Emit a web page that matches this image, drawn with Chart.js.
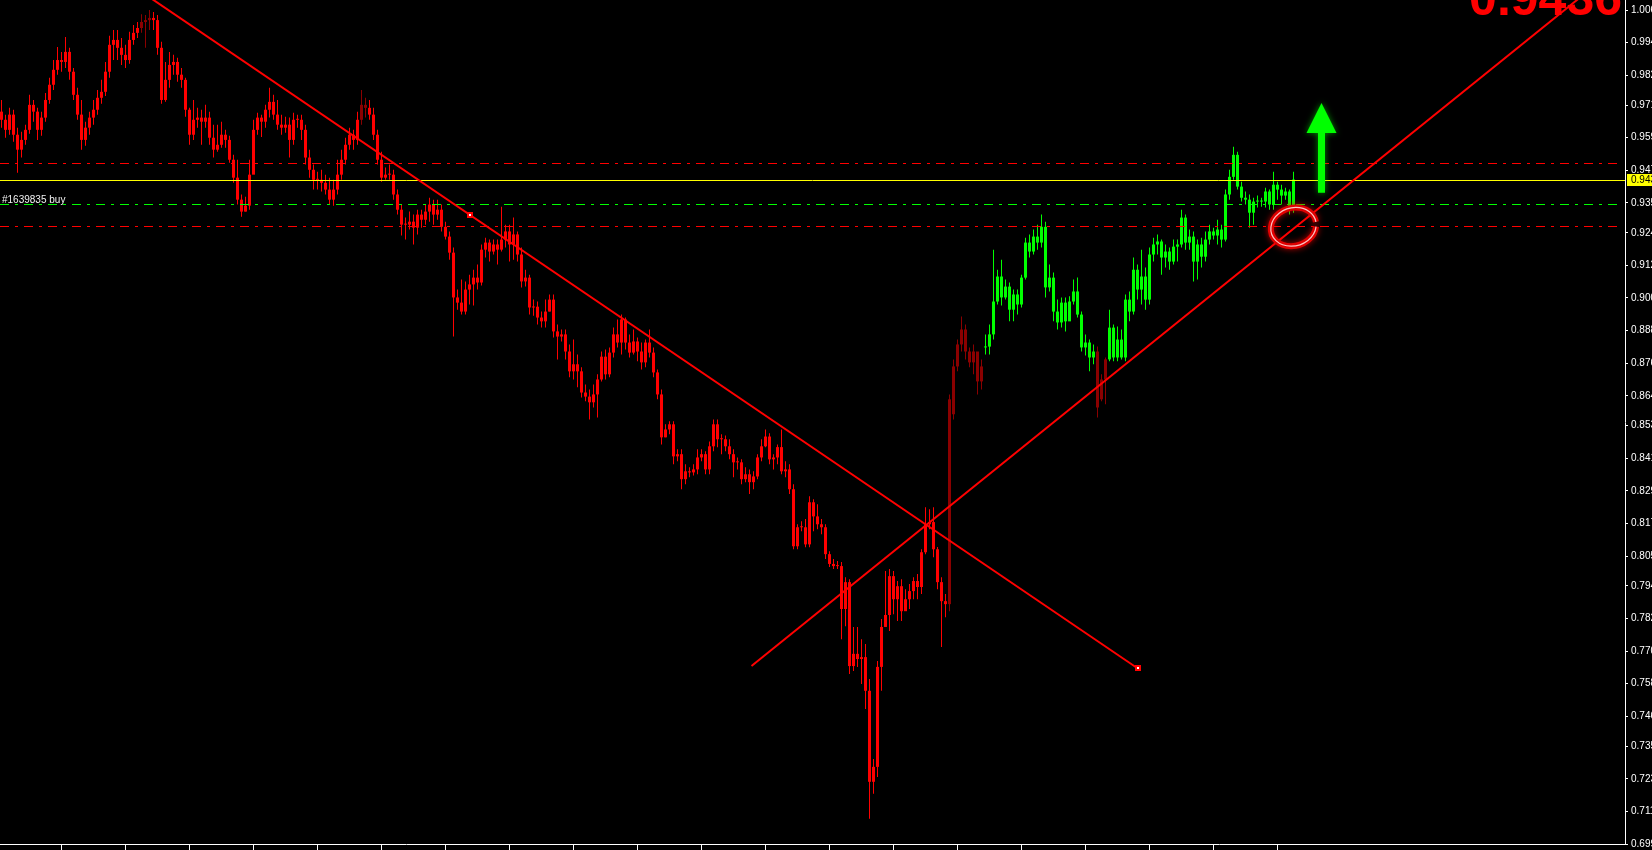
<!DOCTYPE html>
<html>
<head>
<meta charset="utf-8">
<script src="https://cdn.jsdelivr.net/npm/chart.js@4.4.1/dist/chart.umd.min.js"></script>
<style>
  html, body { margin: 0; padding: 0; background: #000; overflow: hidden; }
  canvas { display: block; }
</style>
</head>
<body>
<canvas id="chart" width="1652" height="850"></canvas>
<script>
// candles, oldest first
const opens = [
  0.9686, 0.9656, 0.9619, 0.9675, 0.9601, 0.9546, 0.9582, 0.9619, 0.9711, 0.9686,
  0.9619, 0.9664, 0.9729, 0.9785, 0.9840, 0.9876, 0.9869, 0.9906, 0.9833, 0.9748,
  0.9675, 0.9582, 0.9627, 0.9664, 0.9693, 0.9737, 0.9759, 0.9833, 0.9932, 0.9950,
  0.9921, 0.9895, 0.9876, 0.9950, 0.9976, 0.9994, 1.0016, 1.0023, 1.0031, 1.0023,
  0.9921, 0.9729, 0.9803, 0.9858, 0.9869, 0.9822, 0.9803, 0.9693, 0.9601, 0.9656,
  0.9664, 0.9649, 0.9664, 0.9590, 0.9546, 0.9564, 0.9601, 0.9582, 0.9509, 0.9443,
  0.9362, 0.9318, 0.9340, 0.9454, 0.9619, 0.9664, 0.9649, 0.9693, 0.9722, 0.9675,
  0.9638, 0.9627, 0.9638, 0.9582, 0.9656, 0.9656, 0.9619, 0.9517, 0.9472, 0.9435,
  0.9435, 0.9424, 0.9399, 0.9362, 0.9399, 0.9454, 0.9509, 0.9564, 0.9601, 0.9582,
  0.9656, 0.9711, 0.9700, 0.9675, 0.9601, 0.9509, 0.9443, 0.9454, 0.9454, 0.9381,
  0.9325, 0.9270, 0.9270, 0.9281, 0.9259, 0.9307, 0.9288, 0.9318, 0.9344, 0.9307,
  0.9325, 0.9262, 0.9226, 0.9167, 0.9002, 0.8983, 0.8950, 0.9031, 0.9050, 0.9075,
  0.9057, 0.9178, 0.9204, 0.9171, 0.9197, 0.9178, 0.9215, 0.9245, 0.9197, 0.9234,
  0.9160, 0.9061, 0.9075, 0.8965, 0.8968, 0.8928, 0.8914, 0.8950, 0.8994, 0.8877,
  0.8858, 0.8866, 0.8803, 0.8730, 0.8756, 0.8730, 0.8652, 0.8637, 0.8616, 0.8645,
  0.8700, 0.8784, 0.8719, 0.8799, 0.8866, 0.8836, 0.8921, 0.8836, 0.8799, 0.8840,
  0.8803, 0.8763, 0.8836, 0.8799, 0.8726, 0.8645, 0.8487, 0.8516, 0.8535, 0.8417,
  0.8425, 0.8333, 0.8362, 0.8358, 0.8369, 0.8413, 0.8425, 0.8369, 0.8454, 0.8535,
  0.8480, 0.8480, 0.8454, 0.8425, 0.8395, 0.8395, 0.8333, 0.8351, 0.8322, 0.8343,
  0.8413, 0.8454, 0.8490, 0.8406, 0.8413, 0.8451, 0.8362, 0.8369, 0.8296, 0.8086,
  0.8156, 0.8156, 0.8093, 0.8248, 0.8196, 0.8167, 0.8156, 0.8057, 0.8021, 0.8013,
  0.8013, 0.7855, 0.7954, 0.7645, 0.7690, 0.7671, 0.7678, 0.7554, 0.7219, 0.7274,
  0.7642, 0.7789, 0.7833, 0.7976, 0.7891, 0.7939, 0.7847, 0.7891, 0.7921, 0.7958,
  0.7936, 0.8064, 0.8167, 0.8175, 0.8075, 0.7954, 0.7884, 0.7873, 0.8572, 0.8748,
  0.8829, 0.8884, 0.8803, 0.8763, 0.8803, 0.8693, 0.8818, 0.8821, 0.8866, 0.8987,
  0.9079, 0.9002, 0.9042, 0.8957, 0.9013, 0.8976, 0.9075, 0.9204, 0.9171, 0.9226,
  0.9204, 0.9262, 0.9039, 0.9075, 0.8950, 0.8910, 0.8983, 0.8914, 0.8987, 0.9024,
  0.8939, 0.8818, 0.8836, 0.8781, 0.8803, 0.8627, 0.8700, 0.8774, 0.8891, 0.8781,
  0.8847, 0.8781, 0.8994, 0.8950, 0.9104, 0.9031, 0.9079, 0.8994, 0.9160, 0.9197,
  0.9208, 0.9149, 0.9171, 0.9134, 0.9189, 0.9197, 0.9296, 0.9204, 0.9226, 0.9134,
  0.9197, 0.9152, 0.9215, 0.9245, 0.9230, 0.9252, 0.9215, 0.9381, 0.9446, 0.9527,
  0.9410, 0.9369, 0.9362, 0.9314, 0.9355, 0.9355, 0.9355, 0.9392, 0.9344, 0.9417,
  0.9399, 0.9377, 0.9392, 0.9325
];
const highs = [
  0.9729, 0.9675, 0.9700, 0.9693, 0.9627, 0.9612, 0.9638, 0.9748, 0.9729, 0.9700,
  0.9686, 0.9755, 0.9811, 0.9876, 0.9924, 0.9906, 0.9961, 0.9921, 0.9847, 0.9774,
  0.9729, 0.9649, 0.9686, 0.9729, 0.9766, 0.9803, 0.9869, 0.9965, 0.9987, 0.9987,
  0.9957, 0.9932, 0.9980, 1.0005, 1.0016, 1.0045, 1.0042, 1.0060, 1.0053, 1.0042,
  0.9943, 0.9869, 0.9906, 0.9895, 0.9884, 0.9847, 0.9811, 0.9700, 0.9729, 0.9700,
  0.9693, 0.9711, 0.9686, 0.9638, 0.9638, 0.9649, 0.9619, 0.9597, 0.9527, 0.9509,
  0.9381, 0.9373, 0.9509, 0.9656, 0.9682, 0.9675, 0.9711, 0.9774, 0.9748, 0.9729,
  0.9675, 0.9667, 0.9664, 0.9682, 0.9675, 0.9675, 0.9638, 0.9546, 0.9491, 0.9465,
  0.9472, 0.9454, 0.9443, 0.9435, 0.9509, 0.9546, 0.9590, 0.9627, 0.9619, 0.9686,
  0.9766, 0.9737, 0.9729, 0.9700, 0.9619, 0.9538, 0.9480, 0.9491, 0.9472, 0.9399,
  0.9344, 0.9296, 0.9318, 0.9307, 0.9325, 0.9325, 0.9344, 0.9369, 0.9362, 0.9362,
  0.9344, 0.9281, 0.9245, 0.9186, 0.9031, 0.9068, 0.9061, 0.9086, 0.9104, 0.9123,
  0.9197, 0.9222, 0.9215, 0.9215, 0.9215, 0.9336, 0.9270, 0.9270, 0.9296, 0.9245,
  0.9186, 0.9104, 0.9086, 0.8994, 0.8987, 0.8950, 0.8994, 0.9013, 0.9013, 0.8902,
  0.8884, 0.8884, 0.8829, 0.8847, 0.8792, 0.8745, 0.8682, 0.8663, 0.8682, 0.8719,
  0.8803, 0.8810, 0.8818, 0.8891, 0.8921, 0.8939, 0.8928, 0.8866, 0.8884, 0.8855,
  0.8836, 0.8847, 0.8884, 0.8818, 0.8737, 0.8663, 0.8535, 0.8546, 0.8546, 0.8443,
  0.8443, 0.8388, 0.8377, 0.8388, 0.8443, 0.8443, 0.8436, 0.8472, 0.8553, 0.8553,
  0.8498, 0.8494, 0.8480, 0.8443, 0.8413, 0.8406, 0.8377, 0.8369, 0.8362, 0.8425,
  0.8480, 0.8516, 0.8502, 0.8425, 0.8461, 0.8516, 0.8399, 0.8388, 0.8314, 0.8167,
  0.8178, 0.8186, 0.8270, 0.8259, 0.8241, 0.8186, 0.8167, 0.8068, 0.8039, 0.8032,
  0.8028, 0.7972, 0.7965, 0.7789, 0.7789, 0.7744, 0.7726, 0.7597, 0.7303, 0.7664,
  0.7818, 0.7995, 0.8002, 0.7995, 0.7958, 0.7965, 0.7928, 0.7947, 0.7972, 0.7984,
  0.8075, 0.8230, 0.8222, 0.8230, 0.8083, 0.7972, 0.7910, 0.8645, 0.8774, 0.8847,
  0.8932, 0.8902, 0.8818, 0.8829, 0.8792, 0.8774, 0.8866, 0.8902, 0.9178, 0.9104,
  0.9141, 0.9068, 0.9057, 0.9031, 0.9031, 0.9086, 0.9222, 0.9234, 0.9252, 0.9270,
  0.9307, 0.9281, 0.9123, 0.9094, 0.8994, 0.9002, 0.9002, 0.9006, 0.9068, 0.9075,
  0.8950, 0.8866, 0.8847, 0.8829, 0.8821, 0.8719, 0.8781, 0.8957, 0.8902, 0.8895,
  0.8884, 0.9013, 0.9024, 0.9149, 0.9123, 0.9178, 0.9112, 0.9186, 0.9222, 0.9234,
  0.9215, 0.9197, 0.9186, 0.9215, 0.9215, 0.9325, 0.9307, 0.9252, 0.9245, 0.9215,
  0.9222, 0.9245, 0.9270, 0.9259, 0.9288, 0.9270, 0.9399, 0.9472, 0.9557, 0.9538,
  0.9428, 0.9392, 0.9381, 0.9369, 0.9377, 0.9369, 0.9406, 0.9399, 0.9465, 0.9428,
  0.9417, 0.9406, 0.9399, 0.9465
];
const lows = [
  0.9627, 0.9590, 0.9601, 0.9575, 0.9461, 0.9517, 0.9564, 0.9605, 0.9649, 0.9582,
  0.9597, 0.9649, 0.9715, 0.9766, 0.9822, 0.9833, 0.9847, 0.9803, 0.9729, 0.9656,
  0.9546, 0.9560, 0.9601, 0.9638, 0.9675, 0.9715, 0.9744, 0.9811, 0.9876, 0.9876,
  0.9858, 0.9847, 0.9862, 0.9932, 0.9957, 0.9976, 0.9921, 0.9987, 0.9987, 0.9895,
  0.9715, 0.9722, 0.9774, 0.9822, 0.9796, 0.9774, 0.9667, 0.9564, 0.9582, 0.9627,
  0.9564, 0.9627, 0.9564, 0.9517, 0.9538, 0.9553, 0.9553, 0.9498, 0.9424, 0.9344,
  0.9299, 0.9318, 0.9325, 0.9465, 0.9601, 0.9593, 0.9627, 0.9664, 0.9656, 0.9619,
  0.9601, 0.9608, 0.9517, 0.9564, 0.9627, 0.9582, 0.9491, 0.9443, 0.9399, 0.9399,
  0.9392, 0.9381, 0.9344, 0.9340, 0.9381, 0.9435, 0.9491, 0.9546, 0.9546, 0.9564,
  0.9638, 0.9664, 0.9656, 0.9582, 0.9491, 0.9428, 0.9435, 0.9435, 0.9362, 0.9307,
  0.9230, 0.9215, 0.9252, 0.9197, 0.9234, 0.9259, 0.9270, 0.9281, 0.9270, 0.9288,
  0.9245, 0.9215, 0.9141, 0.8858, 0.8957, 0.8939, 0.8939, 0.8976, 0.8972, 0.9031,
  0.9046, 0.9149, 0.9134, 0.9160, 0.9123, 0.9171, 0.9186, 0.9134, 0.9141, 0.9134,
  0.9039, 0.9042, 0.8939, 0.8935, 0.8902, 0.8891, 0.8891, 0.8950, 0.8855, 0.8774,
  0.8840, 0.8774, 0.8708, 0.8700, 0.8671, 0.8634, 0.8620, 0.8553, 0.8597, 0.8560,
  0.8693, 0.8700, 0.8708, 0.8781, 0.8818, 0.8792, 0.8810, 0.8781, 0.8792, 0.8767,
  0.8737, 0.8745, 0.8781, 0.8708, 0.8627, 0.8461, 0.8487, 0.8498, 0.8388, 0.8399,
  0.8296, 0.8314, 0.8340, 0.8347, 0.8351, 0.8399, 0.8351, 0.8351, 0.8436, 0.8451,
  0.8425, 0.8436, 0.8406, 0.8340, 0.8369, 0.8314, 0.8322, 0.8278, 0.8296, 0.8333,
  0.8399, 0.8451, 0.8388, 0.8369, 0.8388, 0.8351, 0.8340, 0.8278, 0.8075, 0.8075,
  0.8141, 0.8082, 0.8082, 0.8141, 0.8149, 0.8130, 0.8039, 0.8010, 0.8002, 0.8002,
  0.7744, 0.7792, 0.7616, 0.7627, 0.7642, 0.7579, 0.7487, 0.7083, 0.7175, 0.7237,
  0.7554, 0.7800, 0.7774, 0.7836, 0.7811, 0.7811, 0.7855, 0.7855, 0.7891, 0.7891,
  0.7910, 0.8057, 0.8149, 0.8046, 0.7928, 0.7715, 0.7825, 0.7847, 0.8553, 0.8730,
  0.8803, 0.8774, 0.8745, 0.8719, 0.8645, 0.8663, 0.8792, 0.8792, 0.8847, 0.8976,
  0.8972, 0.8994, 0.8914, 0.8914, 0.8939, 0.8965, 0.9068, 0.9149, 0.9160, 0.9178,
  0.9186, 0.9002, 0.9024, 0.8914, 0.8884, 0.8891, 0.8877, 0.8950, 0.8976, 0.8928,
  0.8803, 0.8788, 0.8730, 0.8756, 0.8560, 0.8620, 0.8609, 0.8767, 0.8767, 0.8767,
  0.8774, 0.8767, 0.8914, 0.8939, 0.8994, 0.8976, 0.8957, 0.8976, 0.9134, 0.9160,
  0.9086, 0.9112, 0.9104, 0.9123, 0.9134, 0.9186, 0.9178, 0.9178, 0.9061, 0.9068,
  0.9112, 0.9134, 0.9197, 0.9215, 0.9197, 0.9186, 0.9208, 0.9362, 0.9435, 0.9399,
  0.9355, 0.9344, 0.9259, 0.9270, 0.9333, 0.9336, 0.9333, 0.9325, 0.9325, 0.9362,
  0.9344, 0.9362, 0.9307, 0.9314
];
const closes = [
  0.9656, 0.9619, 0.9675, 0.9601, 0.9546, 0.9582, 0.9619, 0.9711, 0.9686, 0.9619,
  0.9664, 0.9729, 0.9785, 0.9840, 0.9876, 0.9869, 0.9906, 0.9833, 0.9748, 0.9675,
  0.9582, 0.9627, 0.9664, 0.9693, 0.9737, 0.9759, 0.9833, 0.9932, 0.9950, 0.9921,
  0.9895, 0.9876, 0.9950, 0.9976, 0.9994, 1.0016, 1.0023, 1.0031, 1.0023, 0.9921,
  0.9729, 0.9803, 0.9858, 0.9869, 0.9822, 0.9803, 0.9693, 0.9601, 0.9656, 0.9664,
  0.9649, 0.9664, 0.9590, 0.9546, 0.9564, 0.9601, 0.9582, 0.9509, 0.9443, 0.9362,
  0.9318, 0.9340, 0.9454, 0.9619, 0.9664, 0.9649, 0.9693, 0.9722, 0.9675, 0.9638,
  0.9627, 0.9638, 0.9582, 0.9656, 0.9656, 0.9619, 0.9517, 0.9472, 0.9435, 0.9435,
  0.9424, 0.9399, 0.9362, 0.9399, 0.9454, 0.9509, 0.9564, 0.9601, 0.9582, 0.9656,
  0.9711, 0.9700, 0.9675, 0.9601, 0.9509, 0.9443, 0.9454, 0.9454, 0.9381, 0.9325,
  0.9270, 0.9270, 0.9281, 0.9259, 0.9307, 0.9288, 0.9318, 0.9344, 0.9307, 0.9325,
  0.9262, 0.9226, 0.9167, 0.9002, 0.8983, 0.8950, 0.9031, 0.9050, 0.9075, 0.9057,
  0.9178, 0.9204, 0.9171, 0.9197, 0.9178, 0.9215, 0.9245, 0.9197, 0.9234, 0.9160,
  0.9061, 0.9075, 0.8965, 0.8968, 0.8928, 0.8914, 0.8950, 0.8994, 0.8877, 0.8858,
  0.8866, 0.8803, 0.8730, 0.8756, 0.8730, 0.8652, 0.8637, 0.8616, 0.8645, 0.8700,
  0.8784, 0.8719, 0.8799, 0.8866, 0.8836, 0.8921, 0.8836, 0.8799, 0.8840, 0.8803,
  0.8763, 0.8836, 0.8799, 0.8726, 0.8645, 0.8487, 0.8516, 0.8535, 0.8417, 0.8425,
  0.8333, 0.8362, 0.8358, 0.8369, 0.8413, 0.8425, 0.8369, 0.8454, 0.8535, 0.8480,
  0.8480, 0.8454, 0.8425, 0.8395, 0.8395, 0.8333, 0.8351, 0.8322, 0.8343, 0.8413,
  0.8454, 0.8490, 0.8406, 0.8413, 0.8451, 0.8362, 0.8369, 0.8296, 0.8086, 0.8156,
  0.8156, 0.8093, 0.8248, 0.8196, 0.8167, 0.8156, 0.8057, 0.8021, 0.8013, 0.8013,
  0.7855, 0.7954, 0.7645, 0.7690, 0.7671, 0.7678, 0.7554, 0.7219, 0.7274, 0.7642,
  0.7789, 0.7833, 0.7976, 0.7891, 0.7939, 0.7847, 0.7891, 0.7921, 0.7958, 0.7936,
  0.8064, 0.8167, 0.8175, 0.8075, 0.7954, 0.7884, 0.7873, 0.8627, 0.8748, 0.8829,
  0.8884, 0.8803, 0.8763, 0.8803, 0.8693, 0.8748, 0.8821, 0.8866, 0.8987, 0.9079,
  0.9002, 0.9042, 0.8957, 0.9013, 0.8976, 0.9075, 0.9204, 0.9171, 0.9226, 0.9204,
  0.9262, 0.9039, 0.9075, 0.8950, 0.8910, 0.8983, 0.8914, 0.8987, 0.9024, 0.8939,
  0.8818, 0.8836, 0.8781, 0.8803, 0.8597, 0.8700, 0.8774, 0.8891, 0.8781, 0.8847,
  0.8781, 0.8994, 0.8950, 0.9104, 0.9031, 0.9079, 0.8994, 0.9160, 0.9197, 0.9208,
  0.9149, 0.9171, 0.9134, 0.9189, 0.9197, 0.9296, 0.9204, 0.9226, 0.9134, 0.9197,
  0.9152, 0.9215, 0.9245, 0.9230, 0.9252, 0.9215, 0.9381, 0.9446, 0.9527, 0.9410,
  0.9369, 0.9362, 0.9314, 0.9355, 0.9355, 0.9355, 0.9392, 0.9344, 0.9417, 0.9399,
  0.9377, 0.9392, 0.9325, 0.9436
];

// which candles are drawn dark, and where the green (buy) run starts
const darkBars = [35, 36, 37, 90, 91, 237, 238, 239, 240, 241, 242, 243, 244, 245, 274, 275, 276];
const buyRunStart = 246;

// price axis labels and session ticks on the time axis (candle numbers)
const priceLabels = ['1.006', '0.994', '0.982', '0.971', '0.959', '0.947', '0.935', '0.924', '0.912',
  '0.900', '0.888', '0.876', '0.864', '0.853', '0.841', '0.829', '0.817', '0.805', '0.794',
  '0.782', '0.770', '0.758', '0.746', '0.735', '0.723', '0.711', '0.699'];
const sessionTicks = [15, 31, 47, 63, 79, 95, 111, 127, 143, 159, 175, 191, 207, 223, 239, 255, 271, 287, 303, 319];

// order and price levels
const bid = 0.9436;
const orderLabel = '#1639835 buy';
const orderOpen = 0.9347;
const stopLevels = [0.9498, 0.9266];

// trend lines: [candle, price] anchors
const downTrend = [[117, 0.9307], [284, 0.7637]];
const upTrend = [[187.5, 0.7645], [323, 0.9255]];
const circleAt = [323, 0.9262];
const arrowFrom = [330, 0.9387];
const arrowTo = [330, 0.9718];

function candleColor(i) {
  if (darkBars.includes(i)) return '#8b0000';
  if (i >= buyRunStart) return '#00ff00';
  return '#ff0000';
}

const wickData = lows.map((l, i) => ({ x: i, y: [l, highs[i]] }));
const bodyData = opens.map((o, i) => ({ x: i, y: [o, closes[i]] }));

const overlay = {
  id: 'overlay',
  afterDatasetsDraw(chart) {
    const { ctx, chartArea: a, scales: { x, y } } = chart;
    const px = v => x.getPixelForValue(v);
    const py = v => y.getPixelForValue(v);
    ctx.save();
    ctx.beginPath();
    ctx.rect(a.left, a.top, a.right - a.left, a.bottom - a.top);
    ctx.clip();

    // dash-dot levels
    ctx.lineWidth = 1;
    ctx.setLineDash([9, 6, 3, 6]);
    stopLevels.forEach(v => {
      const yy = Math.round(py(v)) + 0.5;
      ctx.strokeStyle = '#ff0000';
      ctx.beginPath(); ctx.moveTo(a.left, yy); ctx.lineTo(a.right - 2, yy); ctx.stroke();
    });
    let yo = Math.round(py(orderOpen)) + 0.5;
    ctx.strokeStyle = '#00ff00';
    ctx.beginPath(); ctx.moveTo(a.left, yo); ctx.lineTo(a.right - 2, yo); ctx.stroke();
    ctx.setLineDash([]);

    // bid line
    const yb = Math.round(py(bid)) + 0.5;
    ctx.strokeStyle = '#ffff00';
    ctx.beginPath(); ctx.moveTo(a.left, yb); ctx.lineTo(a.right, yb); ctx.stroke();

    // order label
    ctx.fillStyle = '#f2f2f2';
    ctx.font = '10px "Liberation Sans"';
    ctx.textBaseline = 'alphabetic';
    ctx.textAlign = 'left';
    ctx.fillText(orderLabel, 2, yo - 2);

    // trend lines
    ctx.strokeStyle = '#ff0000';
    ctx.lineWidth = 2;
    const dA = [px(downTrend[0][0]), py(downTrend[0][1])];
    const dB = [px(downTrend[1][0]), py(downTrend[1][1])];
    let t = (dB[1] - (a.top - 10)) / (dB[1] - dA[1]);
    ctx.beginPath();
    ctx.moveTo(dB[0], dB[1]);
    ctx.lineTo(dB[0] + (dA[0] - dB[0]) * t, a.top - 10);
    ctx.stroke();

    const uA = [px(upTrend[0][0]), py(upTrend[0][1])];
    const uB = [px(upTrend[1][0]), py(upTrend[1][1])];
    t = (uA[1] - (a.top - 10)) / (uA[1] - uB[1]);
    ctx.beginPath();
    ctx.moveTo(uA[0], uA[1]);
    ctx.lineTo(uA[0] + (uB[0] - uA[0]) * t, a.top - 10);
    ctx.stroke();

    // anchor squares of the falling line
    [dA, dB].forEach(p => {
      ctx.fillStyle = '#ff0000';
      ctx.fillRect(Math.round(p[0]) - 3, Math.round(p[1]) - 3, 6, 6);
      ctx.fillStyle = '#ffffff';
      ctx.fillRect(Math.round(p[0]) - 1, Math.round(p[1]) - 1, 2, 2);
    });

    // red circle
    const cx = px(circleAt[0]), cy = py(circleAt[1]);
    ctx.shadowColor = 'rgba(255,0,0,0.7)';
    ctx.shadowBlur = 6;
    ctx.strokeStyle = '#e00000';
    ctx.lineWidth = 6;
    ctx.beginPath(); ctx.ellipse(cx, cy, 23, 19, -0.3, 0.35, Math.PI * 2 + 0.1); ctx.stroke();
    ctx.shadowBlur = 0;
    ctx.strokeStyle = 'rgba(255,215,215,0.9)';
    ctx.lineWidth = 1.2;
    ctx.beginPath(); ctx.ellipse(cx, cy, 23, 19, -0.3, 0.35, Math.PI * 2 + 0.1); ctx.stroke();

    // green arrow
    const ax = px(arrowFrom[0]), ay0 = py(arrowFrom[1]), ay1 = py(arrowTo[1]);
    ctx.shadowColor = 'rgba(0,255,0,0.55)';
    ctx.shadowBlur = 6;
    ctx.fillStyle = '#00ff00';
    ctx.beginPath();
    ctx.moveTo(ax - 3.5, ay0);
    ctx.lineTo(ax - 3.5, ay1 + 30);
    ctx.lineTo(ax - 15, ay1 + 30);
    ctx.lineTo(ax, ay1);
    ctx.lineTo(ax + 15, ay1 + 30);
    ctx.lineTo(ax + 3.5, ay1 + 30);
    ctx.lineTo(ax + 3.5, ay0);
    ctx.closePath();
    ctx.fill();
    ctx.shadowBlur = 0;

    // big bid text, top right
    ctx.fillStyle = '#ff0000';
    ctx.font = 'bold 50px "Liberation Sans"';
    ctx.textAlign = 'right';
    ctx.textBaseline = 'alphabetic';
    ctx.fillText(bid.toFixed(4), a.right - 3, a.top + 15);
    ctx.restore();
  },
  afterDraw(chart) {
    const { ctx, chartArea: a, scales: { y } } = chart;
    const yb = Math.round(y.getPixelForValue(bid));
    ctx.save();
    ctx.fillStyle = '#ffff00';
    ctx.fillRect(a.right + 2, yb - 6, 40, 12);
    ctx.fillStyle = '#000000';
    ctx.font = '10px "Liberation Sans"';
    ctx.textAlign = 'left';
    ctx.textBaseline = 'middle';
    ctx.fillText(bid.toFixed(4), a.right + 6, yb + 0.5);
    ctx.restore();
  }
};

const background = {
  id: 'background',
  beforeDraw(chart) {
    const c = chart.ctx;
    c.save();
    c.fillStyle = '#000000';
    c.fillRect(0, 0, chart.width, chart.height);
    c.restore();
  }
};

Chart.defaults.font.family = '"Liberation Sans", Arial, sans-serif';
Chart.defaults.font.size = 10;

new Chart(document.getElementById('chart'), {
  type: 'bar',
  data: {
    datasets: [
      {
        data: wickData,
        barThickness: 1,
        grouped: false,
        order: 2,
        inflateAmount: 0,
        borderWidth: 0,
        backgroundColor: c => candleColor(c.dataIndex)
      },
      {
        data: bodyData,
        barThickness: 3,
        minBarLength: 1,
        grouped: false,
        order: 1,
        inflateAmount: 0,
        borderWidth: 0,
        backgroundColor: c => candleColor(c.dataIndex)
      }
    ]
  },
  options: {
    responsive: false,
    animation: false,
    devicePixelRatio: 1,
    layout: { padding: 0 },
    plugins: { legend: { display: false }, tooltip: { enabled: false } },
    scales: {
      x: {
        type: 'linear',
        min: -0.375,
        max: 405.875,
        offset: false,
        grid: { drawOnChartArea: false, color: '#ffffff', tickLength: 6, offset: false },
        border: { color: '#ffffff' },
        ticks: { display: false },
        afterBuildTicks: axis => { axis.ticks = sessionTicks.map(v => ({ value: v })); },
        afterFit: axis => {
          axis.height = 6;
          axis.paddingLeft = 0; axis.paddingRight = 0;
        }
      },
      y: {
        position: 'right',
        min: 0.699,
        max: 1.0097,
        grid: { drawOnChartArea: false, color: '#ffffff', tickLength: 3 },
        border: { color: '#ffffff' },
        ticks: {
          color: '#ffffff',
          padding: 3,
          autoSkip: false,
          font: { size: 10 },
          callback: (v, i) => priceLabels[i]
        },
        afterBuildTicks: axis => { axis.ticks = priceLabels.map(s => ({ value: Number(s) })); },
        afterFit: axis => {
          axis.width = 27;
          axis.paddingTop = 0; axis.paddingBottom = 0;
        }
      }
    }
  },
  plugins: [background, overlay]
});
</script>
</body>
</html>
